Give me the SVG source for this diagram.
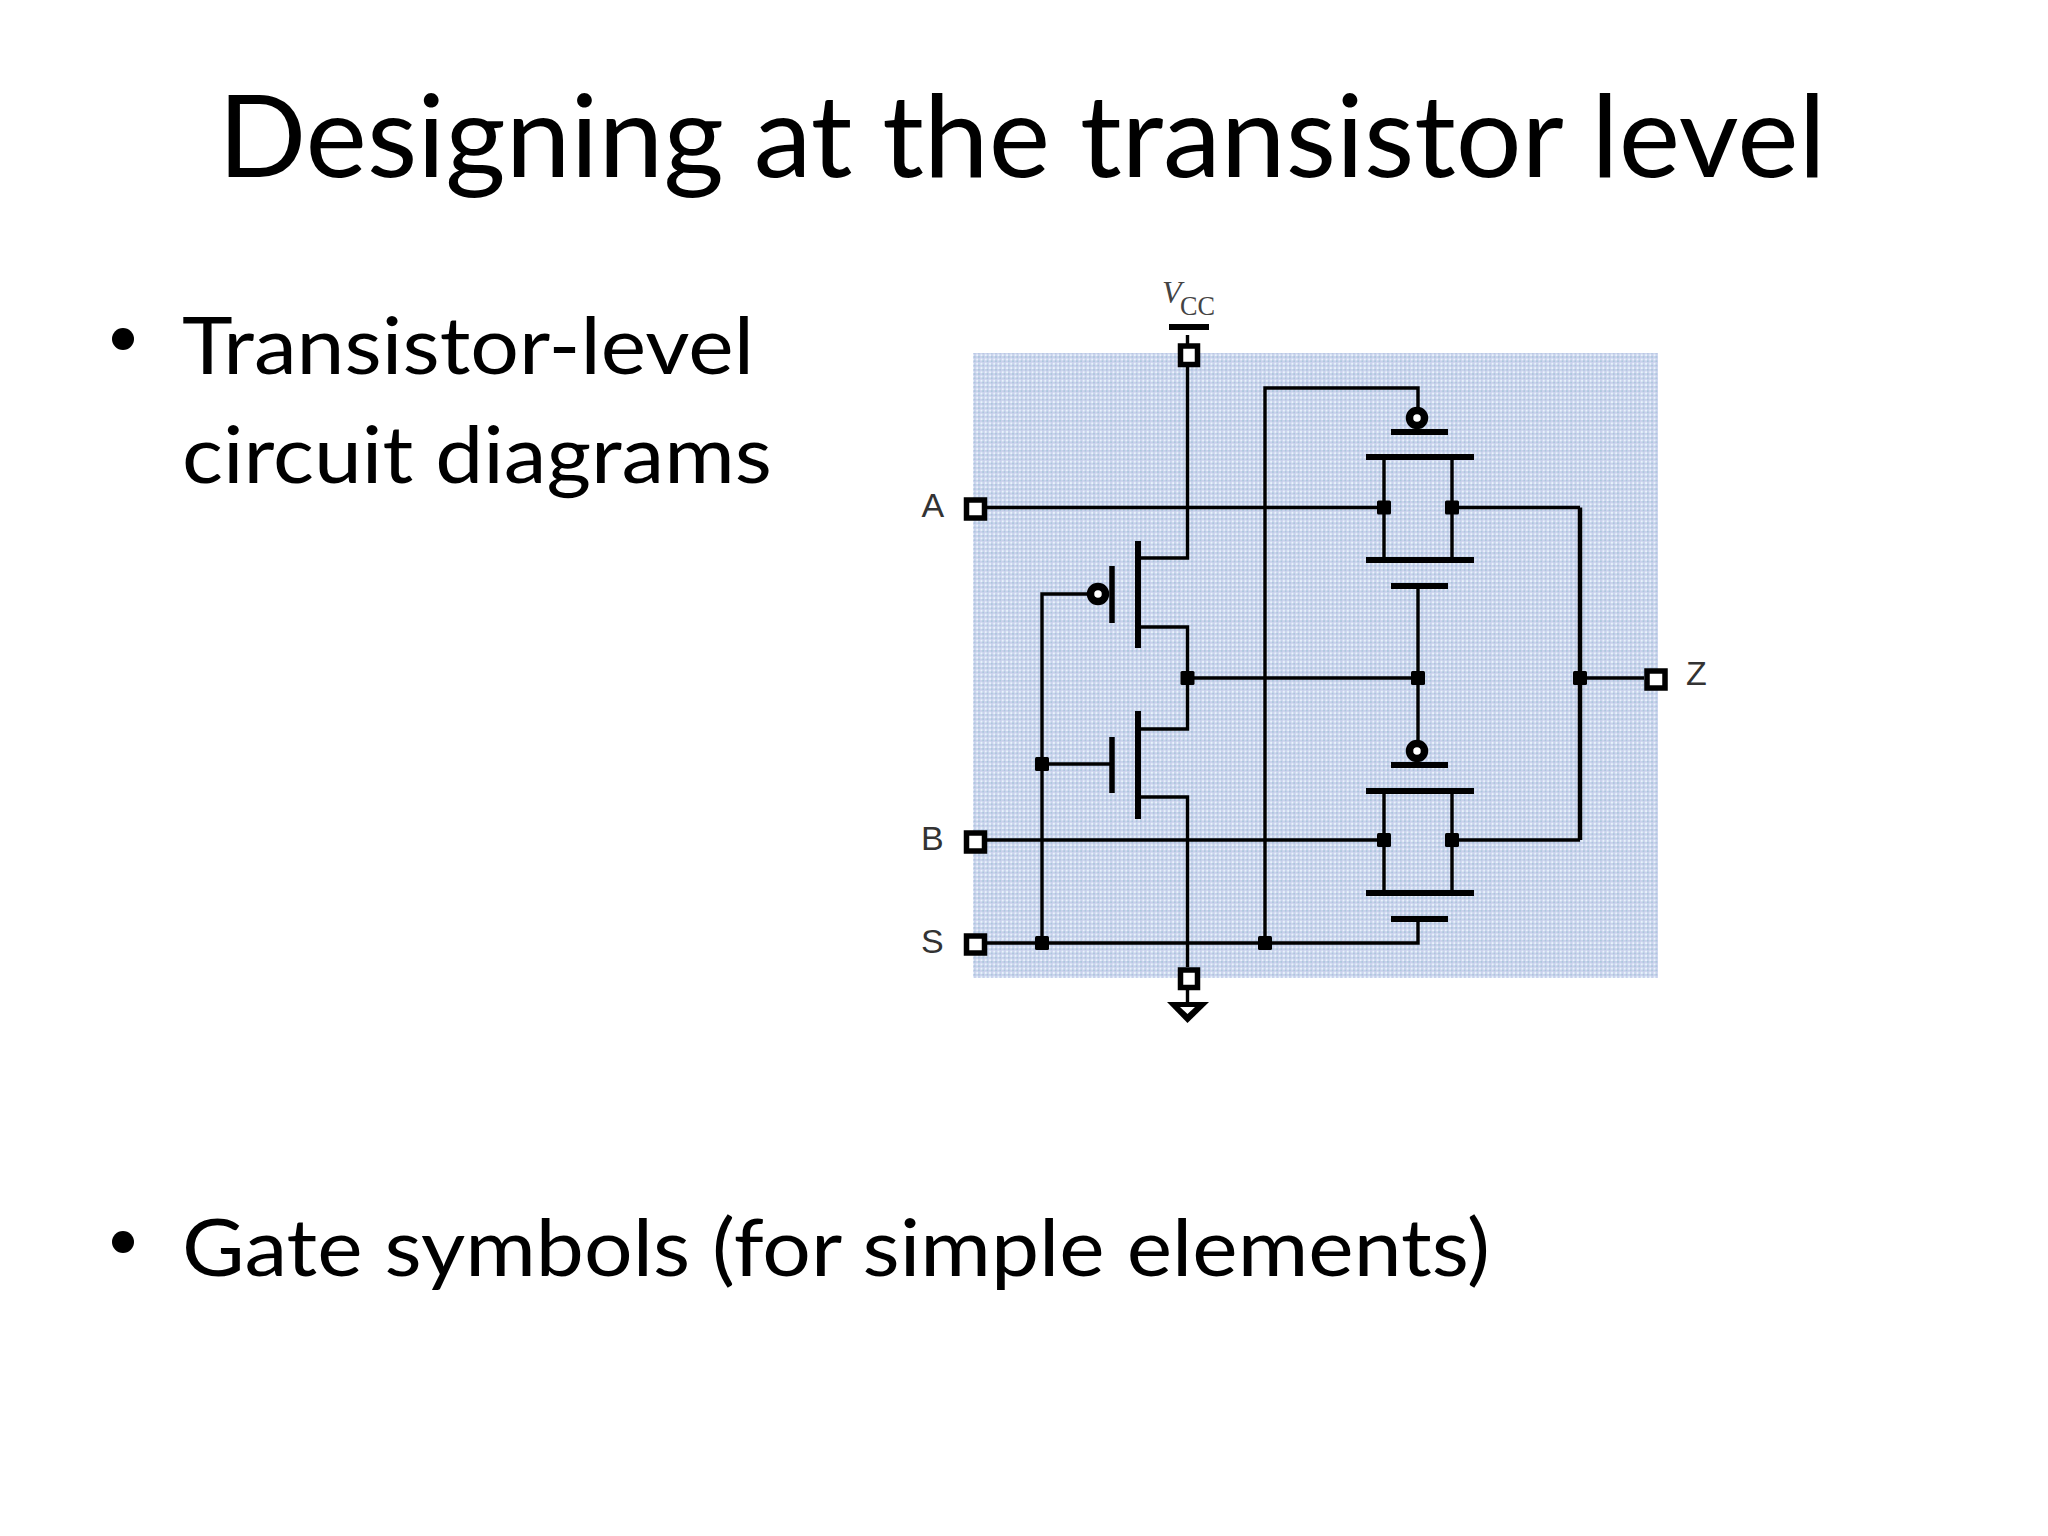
<svg xmlns="http://www.w3.org/2000/svg" width="2048" height="1536" viewBox="0 0 2048 1536">
<style>
.t{font-family:"Lato","Liberation Sans",sans-serif;fill:#000}
.w{stroke:#000;stroke-width:3.4;fill:none}
.b{stroke:#000;stroke-width:6;fill:none}
.p{fill:#fff;stroke:#000;stroke-width:5.5}
.o{fill:#fff;stroke:#000;stroke-width:7.5}
.l{font-family:"Liberation Sans",sans-serif;font-size:34px;fill:#333}
.v{font-family:"Liberation Serif",serif;fill:#444}
</style>
<defs>
<pattern id="dots" width="4.26" height="4.26" patternUnits="userSpaceOnUse">
<rect width="4.26" height="4.26" fill="#c9d0ec"/>
<rect x="0.6" y="0.6" width="2" height="2" fill="#e8f5fb"/>
<rect x="2.7" y="2.7" width="1.4" height="1.4" fill="#9fc4d6"/>
</pattern>
<rect id="dot" x="-7" y="-7" width="14" height="14" rx="1.5"/>
</defs>
<rect width="2048" height="1536" fill="#fff"/>
<text id="title" class="t" x="218" y="177" font-size="114" textLength="1608" lengthAdjust="spacingAndGlyphs">Designing at the transistor level</text>
<g id="bullets">
<circle cx="123" cy="339" r="11"/>
<circle cx="123" cy="1242" r="11"/>
<text class="t" x="182" y="374" font-size="80" textLength="572" lengthAdjust="spacingAndGlyphs">Transistor-level</text>
<text class="t" x="182" y="483" font-size="80" textLength="590" lengthAdjust="spacingAndGlyphs">circuit diagrams</text>
<text class="t" x="182" y="1276" font-size="80" textLength="1308" lengthAdjust="spacingAndGlyphs">Gate symbols (for simple elements)</text>
</g>
<rect id="panel" x="973" y="353" width="685" height="625" fill="url(#dots)"/>
<g id="connectors">
<path class="w" d="M1187.5 335V558H1138M1138 627H1187.5V729H1138M1138 797H1187.5V967"/>
<path class="w" d="M1187.5 990V1004"/>
<path class="w" d="M987 507.5H1384M1452 507.5H1580"/>
<path class="w" d="M987 840H1384M1452 840H1580"/>
<path class="w" d="M987 943H1418V919"/>
<path class="w" d="M1187.5 678H1418M1580 678H1644"/>
<path class="w" d="M1087 594H1042V943"/>
<path class="w" d="M1042 764H1112"/>
<path class="w" d="M1265 943V388H1418V408"/>
<path class="w" d="M1418 586V742"/>
<path class="w" style="stroke-width:4.5" d="M1580 507.5V840"/>
</g>
<g id="vcc">
<path class="b" d="M1169 327H1209"/>
<rect class="p" x="1180.5" y="346" width="17" height="18.5"/>
<text class="v" x="1162" y="303" font-size="32" font-style="italic">V</text>
<text class="v" x="1180" y="315" font-size="28" textLength="35" lengthAdjust="spacingAndGlyphs">CC</text>
</g>
<g id="gnd">
<rect class="p" x="1180.5" y="970" width="17" height="17.5"/>
<polygon points="1167,1002 1209,1002 1187.5,1023"/>
<polygon points="1180,1007 1195,1007 1187.5,1014" fill="#fff"/>
</g>
<g id="term-a"><rect class="p" x="966.5" y="500" width="18" height="18"/><text class="l" x="921.5" y="517">A</text></g>
<g id="term-b"><rect class="p" x="966.5" y="833" width="18" height="18"/><text class="l" x="921" y="850">B</text></g>
<g id="term-s"><rect class="p" x="966.5" y="936" width="18" height="17"/><text class="l" x="921" y="953">S</text></g>
<g id="term-z"><rect class="p" x="1647" y="671" width="18" height="17"/><text class="l" x="1686" y="685">Z</text></g>
<g id="pmos-left">
<path class="b" d="M1138 541V648"/>
<path class="b" d="M1112 566V623" style="stroke-width:5.5"/>
<circle class="o" cx="1098" cy="594" r="7.5"/>
</g>
<g id="nmos-left">
<path class="b" d="M1138 711V819"/>
<path class="b" d="M1112 737V793" style="stroke-width:5.5"/>
</g>
<g id="tgate-top">
<path class="b" d="M1391 432H1448M1366 457H1474M1366 560H1474M1391 586H1448"/>
<path class="w" d="M1384 457V560M1452 457V560"/>
<circle class="o" cx="1417" cy="418" r="7.5"/>
</g>
<g id="tgate-bottom">
<path class="b" d="M1391 765H1448M1366 791H1474M1366 893H1474M1391 919H1448"/>
<path class="w" d="M1384 791V893M1452 791V893"/>
<circle class="o" cx="1417" cy="751" r="7.5"/>
</g>
<g id="junctions">
<use href="#dot" x="1384" y="507.5"/>
<use href="#dot" x="1452" y="507.5"/>
<use href="#dot" x="1384" y="840"/>
<use href="#dot" x="1452" y="840"/>
<use href="#dot" x="1187.5" y="678"/>
<use href="#dot" x="1418" y="678"/>
<use href="#dot" x="1580" y="678"/>
<use href="#dot" x="1042" y="764"/>
<use href="#dot" x="1042" y="943"/>
<use href="#dot" x="1265" y="943"/>
</g>
</svg>
